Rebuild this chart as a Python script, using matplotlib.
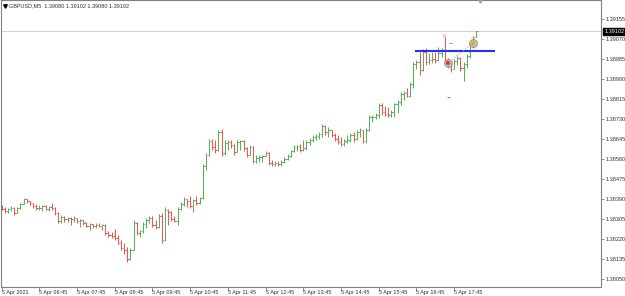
import numpy as np
import matplotlib
matplotlib.use("Agg")
import matplotlib.pyplot as plt

# GBPUSD M5 bars, 5 Apr 2021 from 05:45 (open of each bar = previous close)
first_open = 1.38360
bar_high = [1.38365, 1.38356, 1.38352, 1.38360, 1.38356, 1.38356, 1.38373, 1.38394, 1.38390, 1.38382,
            1.38373, 1.38369, 1.38365, 1.38365, 1.38365, 1.38360, 1.38373, 1.38356, 1.38335, 1.38322,
            1.38318, 1.38314, 1.38314, 1.38318, 1.38309, 1.38305, 1.38301, 1.38292, 1.38288, 1.38284,
            1.38288, 1.38288, 1.38284, 1.38284, 1.38254, 1.38250, 1.38263, 1.38237, 1.38216, 1.38203,
            1.38186, 1.38182, 1.38301, 1.38292, 1.38258, 1.38292, 1.38309, 1.38318, 1.38318, 1.38301,
            1.38326, 1.38331, 1.38356, 1.38348, 1.38339, 1.38318, 1.38356, 1.38377, 1.38399, 1.38390,
            1.38403, 1.38390, 1.38403, 1.38399, 1.38539, 1.38586, 1.38645, 1.38645, 1.38641, 1.38683,
            1.38688, 1.38641, 1.38641, 1.38641, 1.38624, 1.38641, 1.38641, 1.38641, 1.38611, 1.38620,
            1.38615, 1.38577, 1.38577, 1.38577, 1.38594, 1.38590, 1.38556, 1.38552, 1.38552, 1.38556,
            1.38569, 1.38581, 1.38598, 1.38620, 1.38620, 1.38624, 1.38641, 1.38641, 1.38649, 1.38662,
            1.38666, 1.38675, 1.38709, 1.38705, 1.38696, 1.38683, 1.38671, 1.38662, 1.38654, 1.38645,
            1.38662, 1.38671, 1.38675, 1.38683, 1.38692, 1.38683, 1.38692, 1.38747, 1.38747, 1.38756,
            1.38798, 1.38798, 1.38785, 1.38781, 1.38768, 1.38798, 1.38811, 1.38845, 1.38849, 1.38862,
            1.38887, 1.38972, 1.38981, 1.39015, 1.39028, 1.39032, 1.39011, 1.39015, 1.39015, 1.39036,
            1.39032, 1.39079, 1.38989, 1.38977, 1.38985, 1.38998, 1.38994, 1.38972, 1.39006, 1.39053,
            1.39083, 1.39102]
bar_low = [1.38343, 1.38331, 1.38331, 1.38339, 1.38322, 1.38331, 1.38348, 1.38369, 1.38373, 1.38365,
           1.38352, 1.38343, 1.38343, 1.38339, 1.38343, 1.38339, 1.38343, 1.38322, 1.38288, 1.38288,
           1.38292, 1.38292, 1.38280, 1.38292, 1.38288, 1.38271, 1.38280, 1.38271, 1.38258, 1.38267,
           1.38267, 1.38271, 1.38258, 1.38237, 1.38229, 1.38224, 1.38216, 1.38199, 1.38173, 1.38156,
           1.38122, 1.38131, 1.38173, 1.38237, 1.38229, 1.38246, 1.38267, 1.38288, 1.38271, 1.38263,
           1.38267, 1.38203, 1.38212, 1.38280, 1.38297, 1.38292, 1.38280, 1.38343, 1.38360, 1.38356,
           1.38352, 1.38335, 1.38365, 1.38369, 1.38390, 1.38513, 1.38573, 1.38598, 1.38586, 1.38594,
           1.38573, 1.38577, 1.38598, 1.38607, 1.38577, 1.38590, 1.38598, 1.38594, 1.38569, 1.38577,
           1.38543, 1.38543, 1.38547, 1.38547, 1.38573, 1.38535, 1.38530, 1.38530, 1.38530, 1.38530,
           1.38543, 1.38556, 1.38569, 1.38590, 1.38594, 1.38590, 1.38594, 1.38598, 1.38620, 1.38632,
           1.38641, 1.38645, 1.38654, 1.38662, 1.38654, 1.38654, 1.38637, 1.38624, 1.38615, 1.38615,
           1.38628, 1.38632, 1.38632, 1.38641, 1.38654, 1.38628, 1.38628, 1.38679, 1.38717, 1.38730,
           1.38734, 1.38747, 1.38743, 1.38739, 1.38739, 1.38739, 1.38756, 1.38790, 1.38811, 1.38824,
           1.38824, 1.38862, 1.38943, 1.38917, 1.38934, 1.38960, 1.38964, 1.38968, 1.38968, 1.38977,
           1.38994, 1.38968, 1.38947, 1.38930, 1.38943, 1.38960, 1.38934, 1.38892, 1.38947, 1.38989,
           1.39032, 1.39080]
bar_close = [1.38348, 1.38339, 1.38348, 1.38352, 1.38331, 1.38352, 1.38369, 1.38390, 1.38382, 1.38373,
             1.38360, 1.38352, 1.38352, 1.38360, 1.38348, 1.38356, 1.38352, 1.38331, 1.38297, 1.38314,
             1.38305, 1.38309, 1.38305, 1.38309, 1.38297, 1.38301, 1.38288, 1.38275, 1.38284, 1.38275,
             1.38280, 1.38275, 1.38280, 1.38246, 1.38237, 1.38233, 1.38224, 1.38203, 1.38182, 1.38173,
             1.38135, 1.38173, 1.38288, 1.38246, 1.38254, 1.38284, 1.38301, 1.38309, 1.38280, 1.38271,
             1.38318, 1.38216, 1.38343, 1.38335, 1.38305, 1.38297, 1.38348, 1.38369, 1.38390, 1.38382,
             1.38360, 1.38386, 1.38373, 1.38394, 1.38530, 1.38577, 1.38637, 1.38611, 1.38598, 1.38675,
             1.38586, 1.38628, 1.38632, 1.38620, 1.38590, 1.38632, 1.38637, 1.38607, 1.38577, 1.38611,
             1.38552, 1.38564, 1.38569, 1.38573, 1.38586, 1.38543, 1.38539, 1.38543, 1.38539, 1.38547,
             1.38560, 1.38573, 1.38594, 1.38611, 1.38615, 1.38598, 1.38607, 1.38632, 1.38641, 1.38654,
             1.38658, 1.38666, 1.38700, 1.38675, 1.38683, 1.38662, 1.38645, 1.38632, 1.38624, 1.38637,
             1.38641, 1.38662, 1.38645, 1.38675, 1.38683, 1.38637, 1.38683, 1.38739, 1.38739, 1.38747,
             1.38790, 1.38760, 1.38751, 1.38747, 1.38760, 1.38794, 1.38802, 1.38836, 1.38841, 1.38828,
             1.38879, 1.38964, 1.38972, 1.38938, 1.39015, 1.38972, 1.38981, 1.38985, 1.38981, 1.39011,
             1.39023, 1.38981, 1.38968, 1.38943, 1.38977, 1.38989, 1.38947, 1.38964, 1.38998, 1.39045,
             1.39080, 1.39102]

time_labels = ["5 Apr 2021", "5 Apr 06:45", "5 Apr 07:45", "5 Apr 08:45", "5 Apr 09:45",
               "5 Apr 10:45", "5 Apr 11:45", "5 Apr 12:45", "5 Apr 13:45", "5 Apr 14:45",
               "5 Apr 15:45", "5 Apr 16:45", "5 Apr 17:45"]
bars_per_label = 12
price_ticks = [1.39155, 1.39070, 1.38985, 1.38900, 1.38815, 1.38730, 1.38645,
               1.38560, 1.38475, 1.38390, 1.38305, 1.38220, 1.38135, 1.38050]
bid = 1.39102
level_price = 1.39021
level_from, level_to = 131.5, 157
circle_idx = [142, 150]
circle_price = [1.38968, 1.39053]

title = "GBPUSD,M5  1.39080 1.39102 1.39080 1.39102"

green = "#5aaf5a"
red = "#f55252"
font = "Liberation Sans"
fs = 4.0
txt = "#303030"

high = np.array(bar_high)
low = np.array(bar_low)
close = np.array(bar_close)
opn = np.concatenate([[first_open], close[:-1]])
x = np.arange(len(close))
cols = [green if c >= o else red for o, c in zip(opn, close)]

fig = plt.figure(figsize=(6.25, 2.96), dpi=100)
ax = fig.add_axes([0.001, 9 / 296, 600 / 625, 287 / 296])

ax.axhline(bid, color="#c8c8c8", lw=0.6, zorder=1)
ax.vlines(x, low, high, colors=cols, lw=0.75, zorder=3)
ax.hlines(opn, x - 0.45, x, colors=cols, lw=0.75, zorder=3)
ax.hlines(close, x, x + 0.45, colors=cols, lw=0.75, zorder=3)

# objects on the chart
ax.hlines(level_price, level_from, level_to, colors="#2a2aff", lw=1.5, zorder=4)
ax.plot(circle_idx, circle_price, ls=(0, (1, 1.5)), color="#ff8a8a", lw=0.8, zorder=4)
ax.scatter(circle_idx, circle_price, s=34, facecolor="#b4b4b4", edgecolor="#909090",
           lw=0.6, alpha=0.85, zorder=5)
ax.scatter(circle_idx, circle_price, s=3, c=["#ff2020", "#e8b000"], zorder=6)
ax.text(141, 1.39072, "0", color="#ff7070", fontsize=4.5, family=font, ha="center", va="bottom")
ax.hlines(1.39053, 142.4, 143.4, colors="#ff7070", lw=0.7)
ax.hlines(1.38824, 141.7, 142.7, colors="#8080ff", lw=0.8)
ax.plot([152.3], [1.39232], marker="v", ms=2.5, color="#a0a0a0", clip_on=False, zorder=6)

ax.set_xlim(-0.3, 190.6)
ax.set_ylim(1.380160, 1.392358)

ax.yaxis.tick_right()
ax.set_yticks(price_ticks)
ax.set_yticklabels([f"{p:.5f}" for p in price_ticks], family=font, fontsize=fs, color=txt)
ax.set_xticks(np.arange(len(time_labels)) * bars_per_label)
ax.set_xticklabels(time_labels, family=font, fontsize=fs, ha="left", color=txt)
ax.tick_params(axis="y", length=2, width=0.5, pad=1.5, color="#606060")
ax.tick_params(axis="x", length=2, width=0.5, pad=0.5, color="#606060")
for s in ax.spines.values():
    s.set_color("#808080")
    s.set_linewidth(0.8)

ax.annotate(f"{bid:.5f}", xy=(1.0, bid), xycoords=("axes fraction", "data"),
            xytext=(3, 0), textcoords="offset points", va="center", ha="left",
            color="white", fontsize=fs, family=font,
            bbox=dict(boxstyle="square,pad=0.25", fc="black", ec="black"), annotation_clip=False)

ax.plot([0.007], [0.979], marker="v", ms=2.5, color="black", transform=ax.transAxes)
ax.text(0.014, 0.979, title, transform=ax.transAxes, fontsize=fs, family=font,
        va="center", ha="left", color=txt)

fig.savefig("out.png", dpi=100)
